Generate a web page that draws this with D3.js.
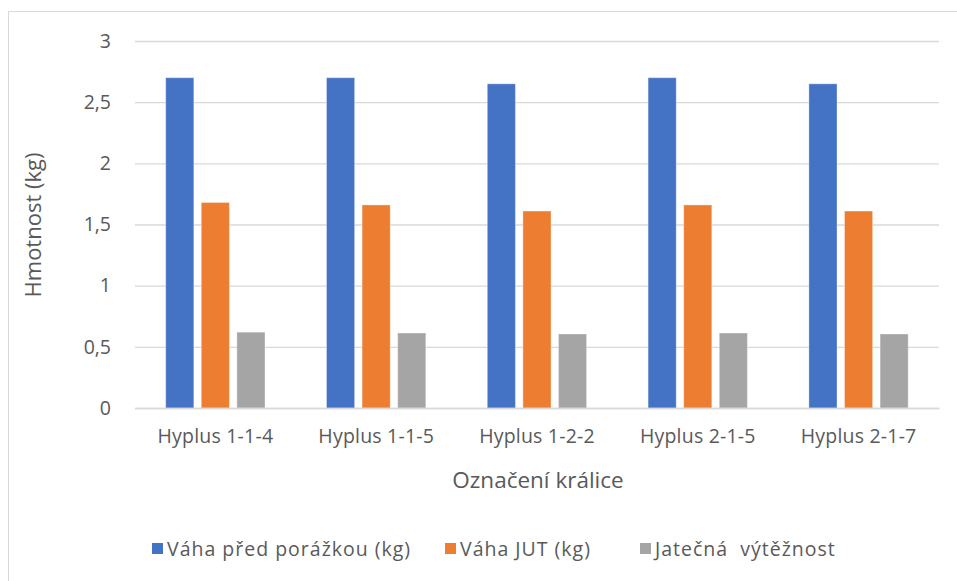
<!DOCTYPE html>
<html><head><meta charset="utf-8">
<script src="https://cdn.jsdelivr.net/npm/d3@7"></script>
<style>body{margin:0;background:#fff}svg{display:block}text{font-family:"Open Sans",sans-serif;fill:#595959}</style>
</head><body>
<svg id="c" width="957" height="581"></svg>
<script>
const categories = ["Hyplus 1-1-4","Hyplus 1-1-5","Hyplus 1-2-2","Hyplus 2-1-5","Hyplus 2-1-7"];
const seriesNames = ["Váha před porážkou (kg)","Váha JUT (kg)","Jatečná  výtěžnost"];
const vahaPred = [2.70,2.70,2.65,2.70,2.65];
const vahaJUT = [1.68,1.66,1.61,1.66,1.61];
const vyteznost = [0.62,0.613,0.605,0.613,0.605];
const yTicks = [0,0.5,1,1.5,2,2.5,3];
const colors = ["#4472C4","#ED7D31","#A5A5A5"];
const series = [vahaPred,vahaJUT,vyteznost];

const svg = d3.select("#c");
svg.append("rect").attr("x",8.5).attr("y",11.5).attr("width",960).attr("height",600)
  .attr("fill","none").attr("stroke","#d9d9d9");

const L=135,R=939,T=41,B=408;
const x = d3.scaleBand().domain(categories).range([L,R]);
const xi = d3.scaleBand().domain(d3.range(3)).range([30.7,130]).paddingInner(0.21);
const y = d3.scaleLinear().domain([0,3]).range([B,T]);

const fmt = d => String(d).replace(".",",");
const ga = svg.append("g").attr("transform",`translate(${L},0)`)
  .call(d3.axisLeft(y).tickValues(yTicks).tickSize(-(R-L)).tickFormat(fmt));
ga.select(".domain").remove();
ga.selectAll(".tick line").attr("stroke","#d9d9d9").attr("stroke-width",1.3);
ga.selectAll(".tick text").attr("x",-24).attr("font-size","19.5px").attr("fill","#595959").attr("font-family","'Open Sans',sans-serif");

series.forEach((s,si)=>{
  svg.append("g").selectAll("rect").data(s).join("rect")
    .attr("x",(d,i)=>x(categories[i])+xi(si))
    .attr("width",xi.bandwidth())
    .attr("y",d=>y(d)).attr("height",d=>B-y(d))
    .attr("fill",colors[si]).attr("stroke","#fff").attr("stroke-opacity",0.35).attr("stroke-width",1);
});

const gx = svg.append("g").attr("transform",`translate(0,${B})`)
  .call(d3.axisBottom(x).tickSize(0).tickPadding(21));
gx.select(".domain").attr("stroke","#d9d9d9").attr("stroke-width",1.3);
gx.selectAll(".tick text").attr("font-size","19.5px").attr("letter-spacing","0.2px").attr("fill","#595959").attr("font-family","'Open Sans',sans-serif");

svg.append("text").attr("transform","translate(41,225) rotate(-90)").attr("text-anchor","middle")
  .attr("font-size","22px").text("Hmotnost (kg)");
svg.append("text").attr("x",538).attr("y",488).attr("text-anchor","middle")
  .attr("font-size","22.5px").text("Označení králice");

const legX = [152,445,640];
const lg = svg.append("g");
seriesNames.forEach((n,i)=>{
  lg.append("rect").attr("x",legX[i]).attr("y",543).attr("width",11).attr("height",11).attr("fill",colors[i]);
  lg.append("text").attr("x",legX[i]+15).attr("y",556).attr("font-size","19.5px").attr("letter-spacing","1px")
    .style("white-space","pre").text(n);
});
</script>
</body></html>
